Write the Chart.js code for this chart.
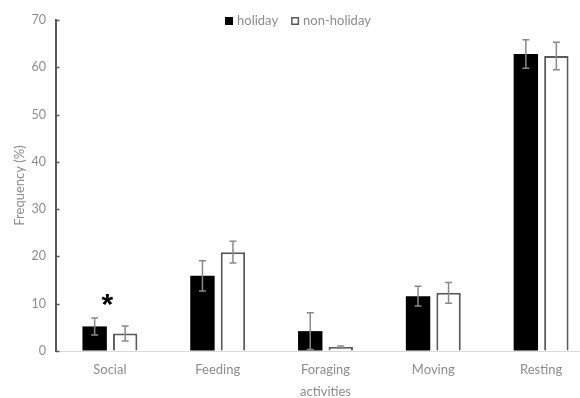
<!DOCTYPE html>
<html>
<head>
<meta charset="utf-8">
<script src="https://cdn.jsdelivr.net/npm/chart.js@4"></script>
<style>
  html, body { margin: 0; padding: 0; background: #fff; overflow: hidden; }
  #wrap { width: 595px; height: 398px; position: relative; }
</style>
</head>
<body>
<div id="wrap"><canvas id="c"></canvas></div>
<script>
// Behaviour categories (multi-line labels as arrays)
const categories = ['Social', 'Feeding', ['Foraging', 'activities'], 'Moving', 'Resting'];

// Mean frequency (%) and error (±) per period
const holiday = [5.2, 15.9, 4.2, 11.6, 62.8];
const holidayErr = [1.8, 3.2, 3.9, 2.1, 3.0];
const nonHoliday = [3.7, 20.9, 0.85, 12.3, 62.4];
const nonHolidayErr = [1.6, 2.3, 0.2, 2.2, 2.9];

// Significance markers per category
const significance = ['*', '', '', '', ''];

// Y axis range
const yMin = 0, yMax = 70, yStep = 10;

const GRAY_TEXT = '#8c8c8c';
const AXIS_DARK = '#595959';
const FONT = 'Lato, "Open Sans", "Liberation Sans", sans-serif';

// Error bars with caps on top of each bar
const errorBars = {
  id: 'errorBars',
  afterDatasetsDraw(chart) {
    const ctx = chart.ctx;
    const y = chart.scales.y;
    const errs = [holidayErr, nonHolidayErr];
    ctx.save();
    ctx.strokeStyle = '#8a8a8a';
    ctx.lineWidth = 1.5;
    chart.data.datasets.forEach((ds, di) => {
      const meta = chart.getDatasetMeta(di);
      meta.data.forEach((bar, i) => {
        const v = ds.data[i], e = errs[di][i];
        const yt = y.getPixelForValue(v + e);
        const yb = y.getPixelForValue(Math.max(v - e, 0));
        const x = bar.x, cap = 3.5;
        ctx.beginPath();
        ctx.moveTo(x, yt); ctx.lineTo(x, yb);
        ctx.moveTo(x - cap, yt); ctx.lineTo(x + cap, yt);
        ctx.moveTo(x - cap, yb); ctx.lineTo(x + cap, yb);
        ctx.stroke();
      });
    });
    ctx.restore();
  }
};

// Significance stars above categories
const sigMarks = {
  id: 'sigMarks',
  afterDatasetsDraw(chart) {
    const ctx = chart.ctx;
    const y = chart.scales.y;
    const m0 = chart.getDatasetMeta(0), m1 = chart.getDatasetMeta(1);
    ctx.save();
    ctx.fillStyle = '#000';
    ctx.font = 'bold 30px "Liberation Sans", sans-serif';
    ctx.textAlign = 'center';
    ctx.textBaseline = 'middle';
    significance.forEach((s, i) => {
      if (!s) return;
      const top = Math.max(holiday[i] + holidayErr[i], nonHoliday[i] + nonHolidayErr[i]);
      const x = (m0.data[i].x + m1.data[i].x) / 2 - 2.5;
      ctx.fillText(s, x, y.getPixelForValue(top) - 12);
    });
    ctx.restore();
  }
};

// Small inward tick marks on the y axis
const innerTicks = {
  id: 'innerTicks',
  afterDraw(chart) {
    const ctx = chart.ctx;
    const y = chart.scales.y;
    const left = chart.chartArea.left;
    ctx.save();
    ctx.strokeStyle = AXIS_DARK;
    ctx.lineWidth = 1.5;
    y.ticks.forEach(t => {
      const py = Math.round(y.getPixelForValue(t.value)) + 0.5;
      ctx.beginPath();
      ctx.moveTo(left, py); ctx.lineTo(left + 3.5, py);
      ctx.stroke();
    });
    ctx.restore();
  }
};

// Horizontal legend drawn inside the top of the plot area
const topLegend = {
  id: 'topLegend',
  afterDraw(chart) {
    const ctx = chart.ctx;
    const box = 8, gapText = 4, gapItem = 13;
    const cy = 21;
    let x = 225;
    ctx.save();
    ctx.font = '13px ' + FONT;
    ctx.textBaseline = 'middle';
    ctx.textAlign = 'left';
    chart.data.datasets.forEach((ds, i) => {
      ctx.fillStyle = ds.backgroundColor;
      ctx.fillRect(x, cy - box / 2, box, box);
      ctx.lineWidth = 1.5;
      ctx.strokeStyle = i === 0 ? '#000' : AXIS_DARK;
      ctx.strokeRect(x + 0.75, cy - box / 2 + 0.75, box - 1.5, box - 1.5);
      x += box + gapText;
      ctx.fillStyle = GRAY_TEXT;
      ctx.fillText(ds.label, x, cy);
      x += ctx.measureText(ds.label).width + gapItem;
    });
    ctx.restore();
  }
};

new Chart(document.getElementById('c'), {
  type: 'bar',
  data: {
    labels: categories,
    datasets: [
      {
        label: 'holiday',
        data: holiday,
        backgroundColor: '#000000',
        borderColor: '#000000',
        borderWidth: 0,
        categoryPercentage: 0.566,
        barPercentage: 0.8
      },
      {
        label: 'non-holiday',
        data: nonHoliday,
        backgroundColor: '#ffffff',
        borderColor: AXIS_DARK,
        borderWidth: 2,
        categoryPercentage: 0.566,
        barPercentage: 0.8
      }
    ]
  },
  options: {
    responsive: true,
    maintainAspectRatio: false,
    animation: false,
    layout: { padding: { top: 20, right: 0, left: 0, bottom: 0 } },
    plugins: {
      legend: { display: false },
      tooltip: { enabled: false }
    },
    scales: {
      x: {
        grid: { display: false, drawTicks: false },
        border: { display: true, color: '#d9d9d9', width: 1 },
        ticks: {
          color: GRAY_TEXT,
          padding: 8,
          font: { family: FONT, size: 13, lineHeight: 1.7 },
          maxRotation: 0
        },
        afterFit(scale) { scale.height = 47; }
      },
      y: {
        min: yMin,
        max: yMax,
        ticks: {
          stepSize: yStep,
          color: GRAY_TEXT,
          padding: 10,
          font: { family: FONT, size: 12.5 }
        },
        grid: { drawOnChartArea: false, drawTicks: false },
        border: { display: true, color: AXIS_DARK, width: 2 },
        title: {
          display: true,
          text: 'Frequency (%)',
          color: GRAY_TEXT,
          font: { family: FONT, size: 13 },
          padding: { top: 12, bottom: 0 }
        },
        afterFit(scale) { scale.width = 56; }
      }
    }
  },
  plugins: [errorBars, sigMarks, innerTicks, topLegend]
});
</script>
</body>
</html>
